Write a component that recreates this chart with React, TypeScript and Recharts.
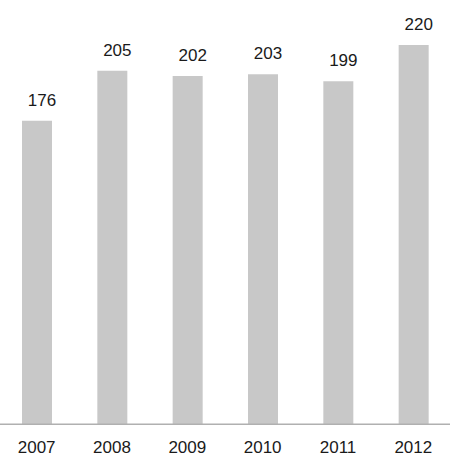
import React from "react";
import { BarChart, Bar, XAxis, YAxis, LabelList } from "recharts";

const years = ["2007", "2008", "2009", "2010", "2011", "2012"];
const values = [176, 205, 202, 203, 199, 220];

const data = years.map((y, i) => ({ year: y, value: values[i] }));

const FONT = "'Liberation Sans', Arial, sans-serif";

export default function App() {
  return (
    <div style={{ position: "absolute", left: -1, top: 0 }}>
      <BarChart
        width={452}
        height={473}
        data={data}
        margin={{ top: 10.5, right: 0, bottom: 8.7, left: 0 }}
      >
        <XAxis
          dataKey="year"
          height={40}
          tickLine={false}
          tickSize={0}
          tickMargin={16.3}
          axisLine={{ stroke: "#b0b0b0", strokeWidth: 1.5 }}
          tick={{ fill: "#1a1a1a", fontSize: 17, fontFamily: FONT }}
        />
        <YAxis hide domain={[0, 240]} />
        <Bar dataKey="value" fill="#c8c8c8" barSize={30} isAnimationActive={false}>
          <LabelList
            dataKey="value"
            position="top"
            offset={15}
            dx={5}
            fill="#1a1a1a"
            fontSize={17}
            fontFamily={FONT}
          />
        </Bar>
      </BarChart>
    </div>
  );
}
